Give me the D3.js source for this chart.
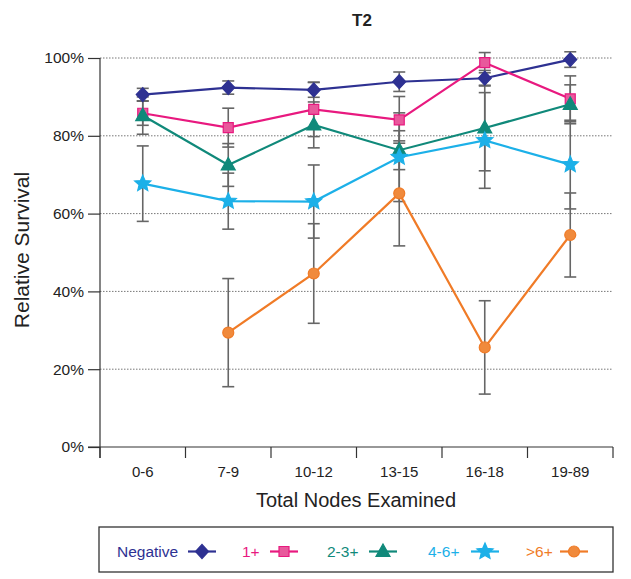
<!DOCTYPE html>
<html>
<head>
<meta charset="utf-8">
<script src="https://cdn.jsdelivr.net/npm/d3@7"></script>
<style>
  html, body { margin: 0; padding: 0; background: #fff; }
  svg { display: block; font-family: "Liberation Sans", Arial, sans-serif; }
</style>
</head>
<body>
<svg id="chart" width="631" height="579"></svg>
<script>
// ---------------- data ----------------
const categories = ["0-6", "7-9", "10-12", "13-15", "16-18", "19-89"];
const yTicks = [0, 20, 40, 60, 80, 100];
const seriesNames = ["Negative", "1+", "2-3+", "4-6+", ">6+"];

const negative    = [90.6, 92.4, 91.8, 93.9, 94.8, 99.6];
const negativeErr = [1.6, 1.7, 1.9, 2.5, 2.0, 2.0];
const pos1        = [85.8, 82.1, 86.8, 84.1, 98.8, 89.5];
const pos1Err     = [3.1, 5.0, 7.0, 6.0, 2.6, 5.9];
const pos23       = [85.2, 72.5, 82.8, 76.3, 82.0, 88.1];
const pos23Err    = [4.8, 5.5, 5.9, 5.0, 11.0, 5.0];
const pos46       = [67.7, 63.2, 63.1, 74.5, 78.8, 72.6];
const pos46Err    = [9.7, 7.2, 9.4, 11.4, 12.3, 11.4];
const pos6        = [null, 29.4, 44.6, 65.2, 25.6, 54.5];
const pos6Err     = [null, 13.9, 12.8, 13.5, 12.0, 10.8];

// ---------------- styles ----------------
const styles = [
  { line: "#2e3192", fill: "#2e3192", stroke: "#2e3192", shape: "diamond" },
  { line: "#e8197f", fill: "#e8599c", stroke: "#e8197f", shape: "square" },
  { line: "#10897a", fill: "#10897a", stroke: "#10897a", shape: "triangle" },
  { line: "#1cb0e8", fill: "#1cb0e8", stroke: "#1cb0e8", shape: "star" },
  { line: "#f07b27", fill: "#f08a3c", stroke: "#f07b27", shape: "circle" }
];
const seriesValues = [negative, pos1, pos23, pos46, pos6];
const seriesErrors = [negativeErr, pos1Err, pos23Err, pos46Err, pos6Err];

const series = seriesNames.map((name, i) => ({
  name,
  style: styles[i],
  points: categories.map((c, j) => ({ cat: c, v: seriesValues[i][j], e: seriesErrors[i][j] }))
                    .filter(p => p.v != null)
}));

// ---------------- layout ----------------
const svg = d3.select("#chart");
const plotLeft = 100, plotRight = 613, plotTop = 58, plotBottom = 447;

const x = d3.scaleBand().domain(categories).range([plotLeft, plotRight]).padding(0);
const y = d3.scaleLinear().domain([0, 100]).range([plotBottom, plotTop]);
const cx = c => x(c) + x.bandwidth() / 2;

function shapePath(shape) {
  switch (shape) {
    case "diamond": return "M0,-7L6.5,0L0,7L-6.5,0Z";
    case "square": return "M-5,-5H5V5H-5Z";
    case "triangle": return "M0,-7.5L7,5L-7,5Z";
    case "circle": return d3.arc()({ innerRadius: 0, outerRadius: 5.5, startAngle: 0, endAngle: 2 * Math.PI });
    case "star": {
      const pts = [];
      for (let k = 0; k < 10; k++) {
        const r = k % 2 === 0 ? 8.5 : 3.9;
        const a = -Math.PI / 2 + k * Math.PI / 5;
        pts.push([r * Math.cos(a), r * Math.sin(a)]);
      }
      return "M" + pts.map(p => p.join(",")).join("L") + "Z";
    }
  }
}

// Title
svg.append("text").attr("x", 362).attr("y", 26).attr("text-anchor", "middle")
  .attr("font-size", 17).attr("font-weight", "bold").attr("fill", "#222").text("T2");

// Gridlines
svg.append("g").selectAll("line").data(yTicks.filter(t => t > 0)).join("line")
  .attr("x1", plotLeft).attr("x2", plotRight)
  .attr("y1", d => y(d)).attr("y2", d => y(d))
  .attr("stroke", "#777").attr("stroke-width", 1).attr("stroke-dasharray", "1.5,1.5");

// Y axis
const yAxis = d3.axisLeft(y).tickValues(yTicks).tickFormat(d => d + "%").tickSize(12).tickPadding(4);
const yg = svg.append("g").attr("transform", `translate(${plotLeft},0)`).call(yAxis);
yg.select(".domain").remove();
yg.selectAll(".tick line").attr("stroke", "#333").attr("stroke-width", 1.2);
yg.selectAll(".tick text").attr("font-size", 15.5).attr("fill", "#222")
  .attr("font-family", "Liberation Sans, Arial, sans-serif");
svg.append("line").attr("x1", plotLeft).attr("x2", plotLeft).attr("y1", plotTop).attr("y2", plotBottom + 11)
  .attr("stroke", "#333").attr("stroke-width", 1.2);

// X axis
const xg = svg.append("g").attr("transform", `translate(0,${plotBottom})`)
  .call(d3.axisBottom(x).tickSize(0).tickPadding(19));
xg.select(".domain").remove();
xg.selectAll(".tick text").attr("font-size", 15).attr("fill", "#222")
  .attr("font-family", "Liberation Sans, Arial, sans-serif");
svg.append("line").attr("x1", plotLeft - 12).attr("x2", plotRight).attr("y1", plotBottom).attr("y2", plotBottom)
  .attr("stroke", "#333").attr("stroke-width", 1.2);
const boundaries = categories.map(c => x(c)).concat([plotRight]);
svg.append("g").selectAll("line").data(boundaries).join("line")
  .attr("x1", d => d).attr("x2", d => d).attr("y1", plotBottom).attr("y2", plotBottom + 11)
  .attr("stroke", "#333").attr("stroke-width", 1.2);

// Axis titles
svg.append("text").attr("x", 356).attr("y", 507).attr("text-anchor", "middle")
  .attr("font-size", 20).attr("fill", "#222").text("Total Nodes Examined");
svg.append("text").attr("transform", "translate(29,250) rotate(-90)").attr("text-anchor", "middle")
  .attr("font-size", 21).attr("fill", "#222").text("Relative Survival");

// Error bars
const eg = svg.append("g");
series.forEach(s => {
  s.points.forEach(p => {
    const px = cx(p.cat);
    const y1 = y(p.v + p.e), y2 = y(p.v - p.e);
    eg.append("line").attr("x1", px).attr("x2", px).attr("y1", y1).attr("y2", y2)
      .attr("stroke", "#666").attr("stroke-width", 1.6);
    [y1, y2].forEach(yy => eg.append("line").attr("x1", px - 6).attr("x2", px + 6)
      .attr("y1", yy).attr("y2", yy).attr("stroke", "#666").attr("stroke-width", 1.6));
  });
});

// Lines and markers
const line = d3.line().x(p => cx(p.cat)).y(p => y(p.v));
series.forEach(s => {
  const g = svg.append("g");
  g.append("path").attr("d", line(s.points)).attr("fill", "none")
    .attr("stroke", s.style.line).attr("stroke-width", 2.2);
  g.selectAll("path.m").data(s.points).join("path").attr("class", "m")
    .attr("d", shapePath(s.style.shape))
    .attr("transform", p => `translate(${cx(p.cat)},${y(p.v)})`)
    .attr("fill", s.style.fill).attr("stroke", s.style.stroke).attr("stroke-width", 1.2);
});

// Legend
const lg = svg.append("g");
lg.append("rect").attr("x", 99).attr("y", 527).attr("width", 514).attr("height", 45)
  .attr("fill", "none").attr("stroke", "#333").attr("stroke-width", 1.3);
const legendTextX = [117, 242, 327, 428, 526];
const legendMarkX = [202, 284, 383, 485, 574];
series.forEach((s, i) => {
  lg.append("text").attr("x", legendTextX[i]).attr("y", 557).attr("font-size", 15.5)
    .attr("fill", s.style.line).text(s.name);
  lg.append("line").attr("x1", legendMarkX[i] - 14).attr("x2", legendMarkX[i] + 14)
    .attr("y1", 551.5).attr("y2", 551.5).attr("stroke", s.style.line).attr("stroke-width", 2.2);
  lg.append("path").attr("d", shapePath(s.style.shape))
    .attr("transform", `translate(${legendMarkX[i]},551.5)`)
    .attr("fill", s.style.fill).attr("stroke", s.style.stroke).attr("stroke-width", 1.2);
});
</script>
</body>
</html>
